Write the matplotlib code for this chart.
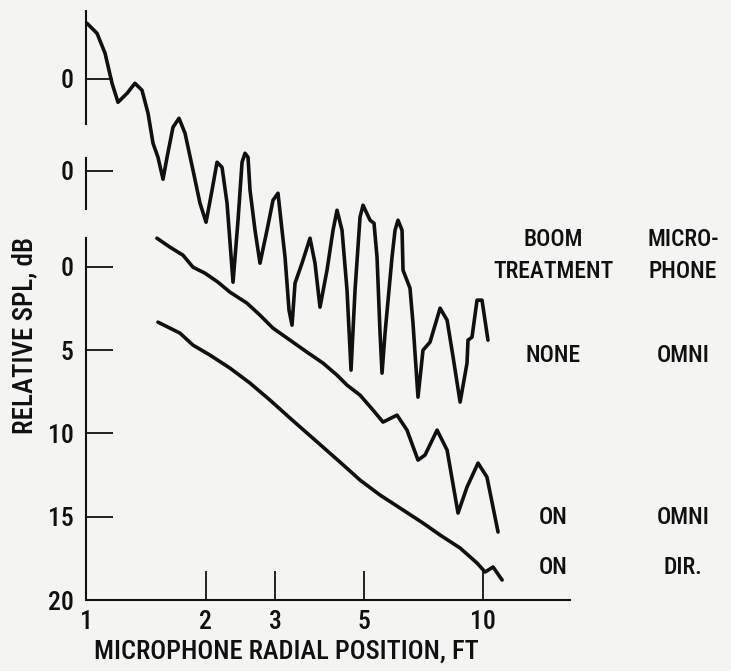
import matplotlib
matplotlib.use("Agg")
import matplotlib.pyplot as plt
from matplotlib import font_manager as fm

# ---------------- data ----------------
# Boom treatment NONE, omni microphone (top trace)
none_omni_x = [1.006, 1.066, 1.117, 1.163, 1.204, 1.269, 1.328, 1.384, 1.433, 1.475,
               1.518, 1.563, 1.600, 1.656, 1.715, 1.776, 1.860, 1.937, 2.006, 2.077,
               2.138, 2.201, 2.266, 2.346, 2.415, 2.472, 2.515, 2.559, 2.589, 2.665,
               2.743, 2.857, 2.958, 3.045, 3.117, 3.172, 3.246, 3.303, 3.361, 3.500,
               3.666, 3.774, 3.885, 4.046, 4.190, 4.288, 4.414, 4.544, 4.651, 4.760,
               4.900, 4.986, 5.193, 5.314, 5.408, 5.503, 5.567, 5.665, 5.899, 6.003,
               6.108, 6.252, 6.288, 6.547, 6.662, 6.858, 7.060, 7.353, 7.796, 8.119,
               8.407, 8.755, 9.113, 9.166, 9.381, 9.658, 9.942, 10.29]
none_omni_y = [-14.62, -14.02, -12.82, -11.02, -9.88, -10.42, -11.02, -10.60, -9.22, -7.42,
               -6.58, -5.26, -6.58, -8.38, -8.92, -8.02, -5.80, -3.82, -2.68, -4.60,
               -6.28, -5.98, -3.82, 0.92, -2.80, -6.28, -6.82, -6.58, -4.60, -2.20,
               -0.22, -2.20, -4.00, -4.42, -2.20, -0.58, 2.60, 3.50, 0.98, -0.22,
               -1.72, -0.22, 2.42, 0.20, -2.20, -3.40, -2.20, 1.40, 6.20, 1.40,
               -2.98, -3.70, -2.80, -2.62, -0.58, 3.98, 6.38, 3.98, -0.58, -2.20,
               -2.80, -2.20, 0.20, 1.28, 3.38, 7.82, 5.00, 4.52, 2.48, 3.20,
               5.42, 8.12, 5.78, 4.40, 4.22, 2.00, 2.00, 4.40]

# Boom treatment ON, omni microphone (middle trace)
on_omni_x = [1.509, 1.628, 1.755, 1.860, 1.994, 2.150, 2.305, 2.544, 2.743, 2.958,
             3.265, 3.603, 3.954, 4.288, 4.544, 4.900, 5.284, 5.599, 6.073, 6.434,
             6.858, 7.142, 7.661, 8.119, 8.650, 9.113, 9.714, 10.23, 10.91]
on_omni_y = [-1.72, -1.18, -0.70, 0.02, 0.38, 0.92, 1.52, 2.18, 2.90, 3.68,
             4.40, 5.12, 5.78, 6.50, 7.10, 7.70, 8.60, 9.32, 8.90, 9.80,
             11.60, 11.30, 9.80, 11.00, 14.78, 13.22, 11.78, 12.62, 15.92]

# Boom treatment ON, directional microphone (bottom trace)
on_dir_x = [1.518, 1.725, 1.860, 2.053, 2.305, 2.589, 2.907, 3.265, 3.774, 4.363,
            4.900, 5.503, 6.180, 7.060, 7.796, 8.755, 9.658, 10.12, 10.60, 11.17]
on_dir_y = [3.32, 3.98, 4.70, 5.30, 6.08, 6.98, 8.00, 9.08, 10.40, 11.72,
            12.80, 13.70, 14.48, 15.38, 16.10, 16.88, 17.78, 18.32, 18.02, 18.80]

x_ticks = [1, 2, 3, 5, 10]
x_tick_labels = ["1", "2", "3", "5", "10"]
y_ticks = [-11.30, -5.76, 0, 5, 10, 15, 20]
y_tick_labels = ["0", "0", "0", "5", "10", "15", "20"]
# broken y-axis segments (dB)
y_segments = [(-15.42, -8.50), (-6.58, -3.40), (-1.78, 20.0)]

legend_header = [("BOOM", "MICRO-"), ("TREATMENT", "PHONE")]
legend_rows = [("NONE", "OMNI"), ("ON", "OMNI"), ("ON", "DIR.")]

# ---------------- font: prefer Roboto Condensed, medium weight ----------------
def wnum(w):
    if isinstance(w, int):
        return w
    return {"normal": 400, "regular": 400, "medium": 500, "semibold": 600,
            "demibold": 600, "bold": 700, "light": 300}.get(str(w).lower(), 400)

pref = ["roboto condensed", "liberation sans narrow", "dejavu sans condensed",
        "noto sans condensed", "open sans condensed"]
cands = []
for f in fm.fontManager.ttflist:
    nm = f.name.lower()
    st = str(f.stretch).lower()
    if f.style != "normal" or "extra" in st or "ultra" in st:
        continue
    r = None
    for i, p in enumerate(pref):
        if p in nm:
            r = i
            break
    if r is None and ("condensed" in st or "narrow" in nm):
        r = 50
    if r is not None:
        cands.append(((r, abs(wnum(f.weight) - 500)), f))
cands.sort(key=lambda t: t[0])
if cands:
    fp = fm.FontProperties(fname=cands[0][1].fname)
else:
    fp = fm.FontProperties(family="DejaVu Sans")

def F(size):
    p = fp.copy()
    p.set_size(size)
    return p

bg = "#f4f4f2"
ink = "#101010"

fig = plt.figure(figsize=(7.31, 6.71), dpi=100, facecolor=bg)
ax = fig.add_axes([86 / 731, 1 - 600 / 671, (570 - 86) / 731, (600 - 10) / 671])
ax.set_facecolor(bg)
ax.set_xscale("log")
ax.set_xlim(1, 16.56)
ax.set_ylim(20, -15.42)

lw = 2.6
for xs, ys in [(none_omni_x, none_omni_y), (on_omni_x, on_omni_y), (on_dir_x, on_dir_y)]:
    ax.plot(xs, ys, color=ink, lw=lw, solid_joinstyle="round", solid_capstyle="round")

for s in ["top", "right", "left"]:
    ax.spines[s].set_visible(False)
ax.spines["bottom"].set_linewidth(1.5)
ax.spines["bottom"].set_color(ink)
for y0, y1 in y_segments:
    ax.plot([1, 1], [y0, y1], color=ink, lw=1.5, clip_on=False, solid_capstyle="butt")

ax.set_xticks(x_ticks)
ax.set_xticklabels(x_tick_labels, fontproperties=F(18.5))
ax.xaxis.set_minor_locator(matplotlib.ticker.NullLocator())
ax.set_yticks(y_ticks)
ax.set_yticklabels(y_tick_labels, fontproperties=F(18.5))
ax.tick_params(axis="x", direction="in", length=21, width=1.3, color=ink,
               pad=7, labelcolor=ink)
ax.tick_params(axis="y", direction="in", length=19.5, width=1.3, color=ink,
               pad=9, labelcolor=ink)

ax.set_xlabel("MICROPHONE RADIAL POSITION, FT", fontproperties=F(19), color=ink)
ax.xaxis.set_label_coords(0.413, -0.088)
ax.xaxis.label.set_va("center")
fig.text(25 / 731, 1 - 336 / 671, "RELATIVE SPL, dB", rotation=90, ha="center",
         va="center", fontproperties=F(19.5), color=ink)

cx1, cx2 = 553 / 731, 683 / 731
for (a, b), ypx in zip(legend_header, [240, 272]):
    fig.text(cx1, 1 - ypx / 671, a, ha="center", va="center", fontproperties=F(17), color=ink)
    fig.text(cx2, 1 - ypx / 671, b, ha="center", va="center", fontproperties=F(17), color=ink)
for (a, b), ypx in zip(legend_rows, [355, 518, 568]):
    fig.text(cx1, 1 - ypx / 671, a, ha="center", va="center", fontproperties=F(17), color=ink)
    fig.text(cx2, 1 - ypx / 671, b, ha="center", va="center", fontproperties=F(17), color=ink)

fig.savefig("out.png", dpi=100, facecolor=bg)
